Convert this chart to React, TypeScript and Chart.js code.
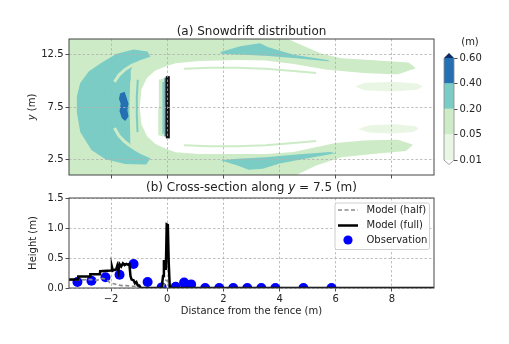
import React, { useEffect, useRef } from 'react';
import { Chart, registerables } from 'chart.js';

Chart.register(...registerables);

const FONT = "'DejaVu Sans', 'Liberation Sans', sans-serif";
Chart.defaults.font.family = FONT;
Chart.defaults.color = '#222';

// ---------- shared x axis ----------
const xMin = -3.5;
const xMax = 9.5;
const xTicks = [-2, 0, 2, 4, 6, 8];

// ---------- (a) snowdrift map ----------
const mapYMin = 1;
const mapYMax = 14;
const mapYTicks = [2.5, 7.5, 12.5];
const levelLabels = ['0.01', '0.05', '0.20', '0.40', '0.60'];
const levelColors = ['#e9f6e4', '#cdebc6', '#7bccc4', '#2470b2'];
const overColor = '#0c2c6a';

// contour regions, [x, y] in metres
const greenBase = [[-3.5, 1], [-3.5, 14], [4.3, 14], [4.8, 13.4], [5.5, 12.6], [6.2, 12.15], [7.5, 11.95], [8.6, 11.75], [8.85, 11.2], [8.2, 10.6], [6, 10.6], [6, 4.4], [8.2, 4.4], [8.75, 3.9], [8.5, 3.3], [7.5, 3.05], [6.2, 2.7], [5.3, 1.9], [4.6, 1]];
const whiteBubble = [[-0.98, 7.5], [-0.92, 9.2], [-0.72, 10.3], [-0.42, 11.0], [-0.05, 11.4], [0.3, 11.68], [1.13, 11.9], [2.5, 12.0], [3.5, 11.95], [4.5, 11.6], [5.7, 11.05], [7, 10.75], [8.2, 10.6], [9.6, 10.5], [9.6, 4.5], [8.2, 4.4], [7, 4.3], [6, 4.05], [5.2, 3.6], [4.5, 3.2], [3.5, 3.0], [1.13, 3.0], [0.3, 3.17], [-0.05, 3.5], [-0.42, 3.96], [-0.72, 4.7], [-0.92, 5.86]];
const fingerTop = [[6.7, 9.45], [7.0, 9.8], [8.0, 9.92], [8.9, 9.75], [9.1, 9.45], [8.9, 9.15], [8.0, 8.98], [7.0, 9.1]];
const fingerBottom = [[6.8, 5.4], [7.2, 5.75], [8.1, 5.85], [8.85, 5.65], [8.95, 5.38], [8.75, 5.1], [8.0, 4.97], [7.2, 5.07]];
const crescent = [[-0.6, 12.3], [-0.7, 12.8], [-1.2, 13.0], [-1.8, 12.6], [-2.3, 11.8], [-2.8, 10.9], [-3.1, 9.8], [-3.22, 8.5], [-3.22, 7.0], [-3.1, 5.1], [-2.7, 3.4], [-2.2, 2.5], [-1.5, 2.05], [-0.75, 2.0], [-0.6, 2.6], [-0.95, 3.0], [-1.2, 3.4], [-1.3, 4.0], [-1.32, 5.0], [-1.35, 7.5], [-1.32, 10.0], [-1.3, 11.0], [-1.2, 11.6], [-0.95, 12.0]];
const tealStreakTop = [[1.9, 12.75], [2.6, 13.3], [3.3, 13.6], [3.6, 13.2], [4.5, 12.5], [5.7, 12.0], [5.8, 11.85], [4.6, 12.15], [3.5, 12.4], [2.5, 12.52], [1.9, 12.58]];
const tealStreakBottom = [[1.9, 2.42], [2.5, 2.55], [3.5, 2.7], [4.6, 2.95], [5.8, 3.2], [6.0, 3.08], [5.0, 2.6], [4.0, 2.1], [3.4, 1.6], [2.9, 1.5], [2.5, 1.9]];
const fenceGreen = [[-0.3, 4.8], [-0.32, 7.5], [-0.3, 10.1], [-0.05, 10.3], [-0.05, 4.6]];
const bluePatch = [[-1.72, 8.3], [-1.68, 8.8], [-1.52, 8.95], [-1.45, 8.4], [-1.38, 7.8], [-1.42, 7.2], [-1.38, 6.6], [-1.5, 6.15], [-1.62, 6.45], [-1.7, 7.1], [-1.66, 7.8]];
// thin contour bands
const innerArcTop = [[0.6, 11.15], [1.5, 11.25], [2.5, 11.25], [3.5, 11.15], [4.5, 10.95], [5.3, 10.75]];
const innerArcBottom = [[0.6, 3.85], [1.5, 3.75], [2.5, 3.75], [3.5, 3.85], [4.5, 4.05], [5.3, 4.25]];
const arcTopGreen = [[-1.88, 9.9], [-1.72, 10.55], [-1.5, 11.1], [-1.25, 11.5], [-0.95, 11.8]];
const arcBottomGreen = [[-1.88, 5.5], [-1.72, 4.75], [-1.5, 4.15], [-1.25, 3.65], [-0.95, 3.3]];
const tealEdge = [[-1.06, 5.1], [-1.08, 6.5], [-1.09, 7.5], [-1.08, 8.5], [-1.05, 10.1]];
const tealFence = [[-0.14, 5.0], [-0.15, 7.5], [-0.14, 9.9]];
const blueFence = [[-0.07, 4.7], [-0.07, 10.3]];
const fence = [[0.02, 4.5], [0.02, 10.45]];

// ---------- (b) cross-section ----------
const hMin = 0;
const hMax = 1.5;
const heightTicks = [0, 0.5, 1.0, 1.5];
const halfX = [-3.5, -3.2, -2.9, -2.7, -2.5, -2.3, -2.15, -2.05, -1.9, -1.75, -1.6, -1.45, -1.3, -1.15, -1.0, -0.9, -0.15, -0.1, -0.05, 0.0, 0.05, 0.1, 9.5];
const halfY = [0.13, 0.13, 0.14, 0.14, 0.13, 0.16, 0.14, 0.09, 0.07, 0.05, 0.04, 0.04, 0.03, 0.03, 0.01, 0.0, 0.0, 0.08, 0.13, 0.12, 0.04, 0.0, 0.0];
const fullX = [-3.5, -3.18, -3.17, -2.75, -2.74, -2.4, -2.39, -2.0, -1.97, -1.94, -1.9, -1.82, -1.78, -1.74, -1.7, -1.64, -1.58, -1.52, -1.46, -1.4, -1.35, -1.31, -1.27, -1.2, -1.15, -1.1, -1.05, -1.0, -0.94, -0.2, -0.15, -0.12, -0.08, -0.05, -0.02, 0.02, 0.05, 0.09, 9.5];
const fullY = [0.14, 0.14, 0.19, 0.19, 0.23, 0.23, 0.28, 0.29, 0.35, 0.29, 0.30, 0.31, 0.37, 0.28, 0.40, 0.36, 0.41, 0.38, 0.40, 0.39, 0.40, 0.20, 0.14, 0.13, 0.08, 0.10, 0.04, 0.04, 0.0, 0.0, 0.2, 0.45, 0.46, 0.3, 1.06, 1.05, 0.45, 0.0, 0.0];
const obsX = [-3.2, -2.7, -2.2, -1.7, -1.2, -0.7, -0.2, 0.3, 0.6, 0.85, 1.35, 1.85, 2.35, 2.85, 3.35, 3.85, 4.85, 5.85];
const obsY = [0.10, 0.12, 0.18, 0.22, 0.40, 0.10, 0.01, 0.02, 0.09, 0.06, 0.0, 0.0, 0.0, 0.0, 0.0, 0.0, 0.0, 0.0];
const seriesLabels = ['Model (half)', 'Model (full)', 'Observation'];

// ---------- helpers ----------
const W = 509;
const H = 344;
const toPts = (xs: number[], ys: number[]) => xs.map((x, i) => ({ x, y: ys[i] }));
const pairPts = (pts: number[][]) => pts.map(([x, y]) => ({ x, y }));
// closed ring starting at its leftmost vertex, with a zero-area return to the rightmost x
function ring(pts: number[][]) {
  let li = 0;
  let ri = 0;
  pts.forEach((p, i) => {
    if (p[0] < pts[li][0]) li = i;
    if (p[0] > pts[ri][0]) ri = i;
  });
  const r = [...pts.slice(li), ...pts.slice(0, li), pts[li], pts[ri]];
  return pairPts(r);
}
const minus = (v: number, d: number) => v.toFixed(d).replace('-', '\u2212');

type Part = { t: string; i?: boolean };
function drawRich(ctx: CanvasRenderingContext2D, parts: Part[], cx: number, cy: number, size: number, angle = 0) {
  ctx.save();
  ctx.translate(cx, cy);
  ctx.rotate(angle);
  ctx.textBaseline = 'middle';
  ctx.textAlign = 'left';
  ctx.fillStyle = '#222';
  const fonts = parts.map((p) => `${p.i ? 'italic ' : ''}${size}px ${FONT}`);
  const widths = parts.map((p, k) => {
    ctx.font = fonts[k];
    return ctx.measureText(p.t).width;
  });
  let x = -widths.reduce((a, b) => a + b, 0) / 2;
  parts.forEach((p, k) => {
    ctx.font = fonts[k];
    ctx.fillText(p.t, x, 0);
    x += widths[k];
  });
  ctx.restore();
}

const framePlugin = {
  id: 'frame',
  afterDraw(chart: any) {
    const { ctx, chartArea: a } = chart;
    ctx.save();
    ctx.strokeStyle = '#444';
    ctx.lineWidth = 1;
    ctx.strokeRect(a.left, a.top, a.right - a.left, a.bottom - a.top);
    ctx.restore();
  },
};

const gridOpts = (z: number) => ({
  color: '#b0b0b0',
  lineWidth: 0.8,
  drawTicks: true,
  tickLength: 3.5,
  tickColor: '#222',
  tickWidth: 0.8,
  tickBorderDash: [],
  z,
});
const borderOpts = { display: false, dash: [2.5, 2] };

// ---------- (a) config ----------
function mapConfig(): any {
  const layers: { kind: 'fill' | 'line'; pts: number[][]; color: string; width?: number }[] = [
    { kind: 'fill', pts: greenBase, color: levelColors[1] },
    { kind: 'fill', pts: whiteBubble, color: '#ffffff' },
    { kind: 'line', pts: innerArcTop, color: levelColors[1], width: 2 },
    { kind: 'line', pts: innerArcBottom, color: levelColors[1], width: 2 },
    { kind: 'fill', pts: fingerTop, color: levelColors[0] },
    { kind: 'fill', pts: fingerBottom, color: levelColors[0] },
    { kind: 'fill', pts: crescent, color: levelColors[2] },
    { kind: 'fill', pts: tealStreakTop, color: levelColors[2] },
    { kind: 'fill', pts: tealStreakBottom, color: levelColors[2] },
    { kind: 'line', pts: arcTopGreen, color: levelColors[1], width: 3 },
    { kind: 'line', pts: arcBottomGreen, color: levelColors[1], width: 3 },
    { kind: 'line', pts: tealEdge, color: levelColors[2], width: 2 },
    { kind: 'fill', pts: bluePatch, color: levelColors[3] },
    { kind: 'fill', pts: fenceGreen, color: levelColors[1] },
    { kind: 'line', pts: tealFence, color: levelColors[2], width: 1.5 },
    { kind: 'line', pts: blueFence, color: levelColors[3], width: 1.5 },
    { kind: 'line', pts: fence, color: '#111111', width: 4 },
  ];
  const n = layers.length;
  const datasets = layers.map((l, i) =>
    l.kind === 'fill'
      ? {
          data: ring(l.pts),
          showLine: true,
          fill: 'shape',
          backgroundColor: l.color,
          borderColor: 'rgba(0,0,0,0)',
          borderWidth: 0,
          pointRadius: 0,
          order: n - i,
        }
      : {
          data: pairPts(l.pts),
          showLine: true,
          fill: false,
          borderColor: l.color,
          borderWidth: l.width,
          borderCapStyle: 'butt',
          pointRadius: 0,
          order: n - i,
        }
  );
  return {
    type: 'scatter',
    data: { datasets },
    options: {
      responsive: false,
      animation: false,
      events: [],
      layout: { autoPadding: false, padding: { left: 0, top: 39, right: W - 434, bottom: H - 175 - 4 } },
      plugins: { legend: { display: false }, tooltip: { enabled: false } },
      scales: {
        x: {
          type: 'linear',
          min: xMin,
          max: xMax,
          afterBuildTicks: (s: any) => {
            s.ticks = xTicks.map((v) => ({ value: v }));
          },
          afterFit: (s: any) => {
            s.height = 4;
          },
          ticks: { display: false },
          grid: gridOpts(1),
          border: borderOpts,
        },
        y: {
          type: 'linear',
          min: mapYMin,
          max: mapYMax,
          afterBuildTicks: (s: any) => {
            s.ticks = mapYTicks.map((v) => ({ value: v }));
          },
          afterFit: (s: any) => {
            s.width = 69;
          },
          ticks: { padding: 2, font: { size: 10 }, color: '#222', callback: (v: number) => minus(v, 1) },
          grid: gridOpts(1),
          border: borderOpts,
        },
      },
    },
    plugins: [
      framePlugin,
      {
        id: 'mapText',
        afterDraw(chart: any) {
          const { ctx, chartArea: a } = chart;
          drawRich(ctx, [{ t: '(a) Snowdrift distribution' }], (a.left + a.right) / 2, 31.5, 12);
          drawRich(ctx, [{ t: 'y', i: true }, { t: ' (m)' }], 32, (a.top + a.bottom) / 2, 10, -Math.PI / 2);
        },
      },
    ],
  };
}

// ---------- colorbar config ----------
function colorbarConfig(): any {
  const datasets = levelColors.map((c, i) => ({
    data: [[i, i + 1]],
    backgroundColor: c,
    borderWidth: 0,
    barPercentage: 1,
    categoryPercentage: 1,
    grouped: false,
  }));
  return {
    type: 'bar',
    data: { labels: ['depth'], datasets },
    options: {
      responsive: false,
      animation: false,
      events: [],
      layout: { autoPadding: false, padding: { left: 444, top: 58, right: 0, bottom: H - 160 } },
      plugins: { legend: { display: false }, tooltip: { enabled: false } },
      scales: {
        x: { display: false },
        y: {
          position: 'right',
          min: 0,
          max: levelColors.length,
          afterBuildTicks: (s: any) => {
            s.ticks = levelLabels.map((_, i) => ({ value: i }));
          },
          afterFit: (s: any) => {
            s.width = W - 454;
          },
          ticks: { padding: 2, font: { size: 10 }, color: '#222', callback: (v: number) => levelLabels[v] },
          grid: { drawOnChartArea: false, drawTicks: true, tickLength: 3.5, tickColor: '#222', tickWidth: 0.8 },
          border: { display: false },
        },
      },
    },
    plugins: [
      {
        id: 'cbExtend',
        afterDatasetsDraw(chart: any) {
          const { ctx, chartArea: a } = chart;
          const y = chart.scales.y;
          const top = y.getPixelForValue(levelColors.length);
          const bot = y.getPixelForValue(0);
          const cx = (a.left + a.right) / 2;
          ctx.save();
          ctx.beginPath();
          ctx.moveTo(a.left, top);
          ctx.lineTo(cx, top - 5);
          ctx.lineTo(a.right, top);
          ctx.closePath();
          ctx.fillStyle = overColor;
          ctx.fill();
          ctx.beginPath();
          ctx.moveTo(a.left, bot);
          ctx.lineTo(a.left, top);
          ctx.lineTo(cx, top - 5);
          ctx.lineTo(a.right, top);
          ctx.lineTo(a.right, bot);
          ctx.lineTo(cx, bot + 4.5);
          ctx.closePath();
          ctx.strokeStyle = '#8a8a8a';
          ctx.lineWidth = 0.8;
          ctx.stroke();
          ctx.restore();
          drawRich(ctx, [{ t: '(m)' }], 470, 42.5, 10);
        },
      },
    ],
  };
}

// ---------- (b) config ----------
function sectionConfig(): any {
  const datasets = [
    {
      label: seriesLabels[0],
      data: toPts(halfX, halfY),
      showLine: true,
      borderColor: '#8c8c8c',
      borderWidth: 1.6,
      borderDash: [4, 2.5],
      pointRadius: 0,
      order: 1,
    },
    {
      label: seriesLabels[1],
      data: toPts(fullX, fullY),
      showLine: true,
      borderColor: '#000000',
      borderWidth: 2.5,
      pointRadius: 0,
      order: 0,
    },
    {
      label: seriesLabels[2],
      data: toPts(obsX, obsY),
      showLine: false,
      pointRadius: 5,
      pointBackgroundColor: '#0000ff',
      pointBorderWidth: 0,
      backgroundColor: '#0000ff',
      clip: 0,
      order: 2,
    },
  ];
  return {
    type: 'scatter',
    data: { datasets },
    options: {
      responsive: false,
      animation: false,
      events: [],
      layout: { autoPadding: false, padding: { left: 0, top: 198, right: W - 434, bottom: H - 288 - 30 } },
      plugins: { legend: { display: false }, tooltip: { enabled: false } },
      scales: {
        x: {
          type: 'linear',
          min: xMin,
          max: xMax,
          afterBuildTicks: (s: any) => {
            s.ticks = xTicks.map((v) => ({ value: v }));
          },
          afterFit: (s: any) => {
            s.height = 30;
          },
          ticks: { padding: 2, font: { size: 10 }, color: '#222', callback: (v: number) => minus(v, 0) },
          grid: gridOpts(-1),
          border: borderOpts,
          title: { display: true, text: 'Distance from the fence (m)', font: { size: 10 }, color: '#222', padding: { top: 0, bottom: 1 } },
        },
        y: {
          type: 'linear',
          min: hMin,
          max: hMax,
          afterBuildTicks: (s: any) => {
            s.ticks = heightTicks.map((v) => ({ value: v }));
          },
          afterFit: (s: any) => {
            s.width = 69;
          },
          ticks: { padding: 2, font: { size: 10 }, color: '#222', callback: (v: number) => minus(v, 1) },
          grid: gridOpts(-1),
          border: borderOpts,
          title: { display: true, text: 'Height (m)', font: { size: 10 }, color: '#222', padding: { top: 27, bottom: 0 } },
        },
      },
    },
    plugins: [
      framePlugin,
      {
        id: 'obsClip',
        beforeDatasetDraw(chart: any, args: any) {
          const { ctx, chartArea: a } = chart;
          ctx.save();
          ctx.beginPath();
          ctx.rect(a.left, a.top, a.right - a.left, a.bottom - a.top);
          ctx.clip();
        },
        afterDatasetDraw(chart: any) {
          chart.ctx.restore();
        },
      },
      {
        id: 'sectionText',
        afterDraw(chart: any) {
          const { ctx, chartArea: a } = chart;
          drawRich(ctx, [{ t: '(b) Cross-section along ' }, { t: 'y', i: true }, { t: ' = 7.5 (m)' }], (a.left + a.right) / 2, 187.5, 12);
          // legend
          const ds = chart.data.datasets;
          const bw = 94.5;
          const bh = 46.5;
          const bx = a.right - 4.5 - bw;
          const by = a.top + 5;
          ctx.save();
          ctx.beginPath();
          if (ctx.roundRect) ctx.roundRect(bx, by, bw, bh, 2);
          else ctx.rect(bx, by, bw, bh);
          ctx.fillStyle = 'rgba(255,255,255,0.85)';
          ctx.fill();
          ctx.strokeStyle = '#d0d0d0';
          ctx.lineWidth = 1;
          ctx.stroke();
          const rows = [by + 7, by + 22.5, by + 37];
          ds.forEach((d: any, i: number) => {
            const ry = rows[i];
            if (d.showLine) {
              ctx.beginPath();
              ctx.setLineDash(d.borderDash || []);
              ctx.strokeStyle = d.borderColor;
              ctx.lineWidth = d.borderWidth;
              ctx.moveTo(bx + 3, ry);
              ctx.lineTo(bx + 23, ry);
              ctx.stroke();
              ctx.setLineDash([]);
            } else {
              ctx.beginPath();
              ctx.arc(bx + 13, ry, 4.6, 0, Math.PI * 2);
              ctx.fillStyle = d.backgroundColor;
              ctx.fill();
            }
            ctx.font = `10px ${FONT}`;
            ctx.fillStyle = '#222';
            ctx.textBaseline = 'middle';
            ctx.textAlign = 'left';
            ctx.fillText(d.label, bx + 31.5, ry);
          });
          ctx.restore();
        },
      },
    ],
  };
}

export default function App() {
  const mapRef = useRef<HTMLCanvasElement>(null);
  const cbRef = useRef<HTMLCanvasElement>(null);
  const secRef = useRef<HTMLCanvasElement>(null);
  useEffect(() => {
    const charts = [
      new Chart(mapRef.current!, mapConfig()),
      new Chart(cbRef.current!, colorbarConfig()),
      new Chart(secRef.current!, sectionConfig()),
    ];
    return () => charts.forEach((c) => c.destroy());
  }, []);
  const st: React.CSSProperties = { position: 'absolute', left: 0, top: 0, width: W, height: H };
  return (
    <div style={{ position: 'fixed', left: 0, top: 0, width: W, height: H, background: '#ffffff' }}>
      <canvas ref={mapRef} width={W} height={H} style={st} />
      <canvas ref={cbRef} width={W} height={H} style={st} />
      <canvas ref={secRef} width={W} height={H} style={st} />
    </div>
  );
}
